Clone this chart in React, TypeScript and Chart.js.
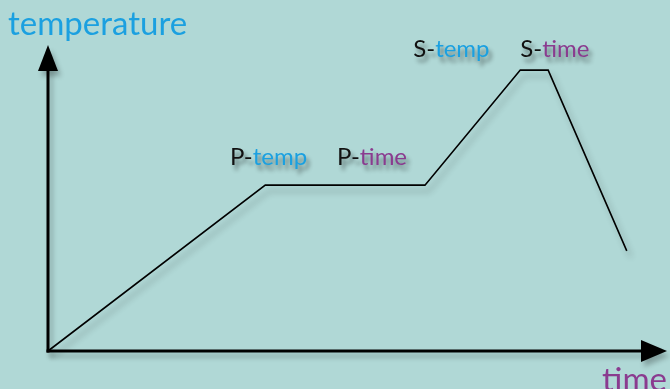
import React, { useEffect, useRef } from "react";
import { Chart, registerables } from "chart.js";

Chart.register(...registerables);

// Reflow-style profile: time (x) vs temperature (y), both in relative units 0..100
const profileTime = [0, 35.1, 60.9, 76.3, 80.8, 93.5];
const profileTemp = [0, 54.2, 54.2, 91.8, 91.8, 32.7];

// Phase labels: prefix (black) + parameter word (coloured), anchored at left/baseline
const labelPrefix = ["P-", "P-", "S-", "S-"];
const labelWord = ["temp", "time", "temp", "time"];
const labelX = [29.4, 46.7, 59.0, 76.3];
const labelY = [60.8, 60.8, 96.1, 96.1];

const axisTitleY = "temperature";
const axisTitleX = "time";

const BG = "#b0d8d6";
const BLUE = "#1ba0e0";
const PURPLE = "#8a3b8f";
const FONT = "Lato, 'Open Sans', sans-serif";

const overlayPlugin = {
  id: "overlay",
  beforeDatasetsDraw(chart: any) {
    const { ctx, chartArea } = chart;
    const { left, right, top, bottom } = chartArea;
    ctx.save();
    ctx.shadowColor = "rgba(0,0,0,0.25)";
    ctx.shadowBlur = 5;
    ctx.shadowOffsetX = 3;
    ctx.shadowOffsetY = 5;
    ctx.strokeStyle = "#000";
    ctx.fillStyle = "#000";
    ctx.lineWidth = 3;
    ctx.lineCap = "butt";
    // vertical axis
    ctx.beginPath();
    ctx.moveTo(left, bottom + 1.5);
    ctx.lineTo(left, top + 20);
    ctx.stroke();
    ctx.beginPath();
    ctx.moveTo(left, top);
    ctx.lineTo(left - 10, top + 26);
    ctx.lineTo(left + 10, top + 26);
    ctx.closePath();
    ctx.fill();
    // horizontal axis
    ctx.beginPath();
    ctx.moveTo(left - 1.5, bottom);
    ctx.lineTo(right - 20, bottom);
    ctx.stroke();
    ctx.beginPath();
    ctx.moveTo(right, bottom);
    ctx.lineTo(right - 26, bottom - 11);
    ctx.lineTo(right - 26, bottom + 11);
    ctx.closePath();
    ctx.fill();
    ctx.restore();

    // shadow for the data line
    ctx.save();
    ctx.shadowColor = "rgba(0,0,0,0.3)";
    ctx.shadowBlur = 6;
    ctx.shadowOffsetX = 4;
    ctx.shadowOffsetY = 6;
  },
  afterDatasetsDraw(chart: any) {
    const { ctx, scales, chartArea } = chart;
    ctx.restore();
    const xs = scales.x;
    const ys = scales.y;

    ctx.save();
    ctx.textBaseline = "alphabetic";
    ctx.textAlign = "left";
    ctx.shadowColor = "rgba(0,0,0,0.45)";
    ctx.shadowBlur = 4;
    ctx.shadowOffsetX = 3;
    ctx.shadowOffsetY = 5;
    ctx.font = `24px ${FONT}`;
    for (let i = 0; i < labelPrefix.length; i++) {
      const px = xs.getPixelForValue(labelX[i]);
      const py = ys.getPixelForValue(labelY[i]);
      ctx.fillStyle = "#111";
      ctx.fillText(labelPrefix[i], px, py);
      const w = ctx.measureText(labelPrefix[i]).width;
      ctx.fillStyle = labelWord[i] === "temp" ? BLUE : PURPLE;
      ctx.fillText(labelWord[i], px + w, py);
    }
    ctx.restore();

    ctx.save();
    ctx.font = `33px ${FONT}`;
    ctx.textBaseline = "alphabetic";
    ctx.fillStyle = BLUE;
    ctx.textAlign = "left";
    ctx.fillText(axisTitleY, 8, 35);
    ctx.fillStyle = PURPLE;
    ctx.textAlign = "right";
    ctx.fillText(axisTitleX, chartArea.right, 391);
    ctx.restore();
  },
};

export default function App() {
  const ref = useRef<HTMLCanvasElement>(null);
  useEffect(() => {
    if (!ref.current) return;
    const chart = new Chart(ref.current, {
      type: "line",
      data: {
        datasets: [
          {
            data: profileTime.map((t, i) => ({ x: t, y: profileTemp[i] })),
            borderColor: "#000",
            borderWidth: 1.6,
            pointRadius: 0,
            fill: false,
            tension: 0,
            clip: false as any,
          },
        ],
      },
      options: {
        animation: false,
        responsive: false,
        devicePixelRatio: 1,
        layout: { padding: { left: 48, right: 3, top: 45, bottom: 38 } },
        plugins: { legend: { display: false }, tooltip: { enabled: false } },
        scales: {
          x: { type: "linear", min: 0, max: 100, display: false },
          y: { type: "linear", min: 0, max: 100, display: false },
        },
      },
      plugins: [overlayPlugin],
    });
    return () => chart.destroy();
  }, []);
  return (
    <div style={{ position: "fixed", left: 0, top: 0, width: 670, height: 389, background: BG }}>
      <canvas ref={ref} width={670} height={389} style={{ display: "block" }} />
    </div>
  );
}
